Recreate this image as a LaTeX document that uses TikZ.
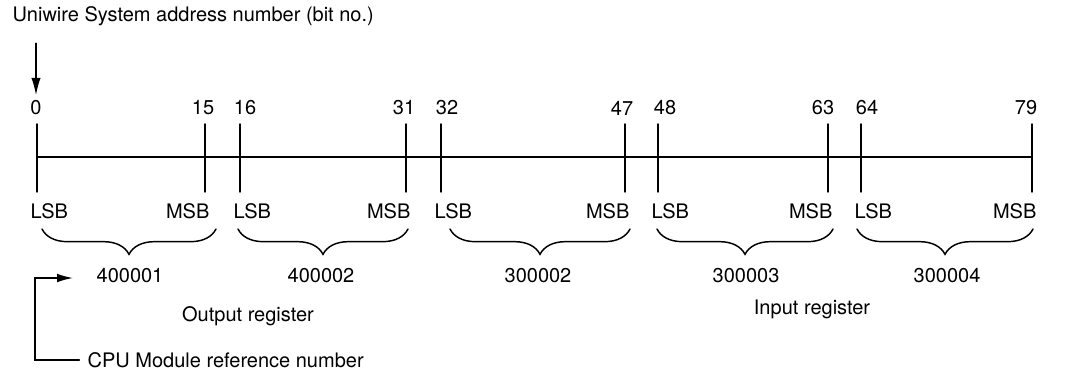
\documentclass[tikz,border=0pt]{standalone}
\usepackage{fontspec}
\setmainfont{TeX Gyre Heros}
\usetikzlibrary{arrows.meta,decorations.pathreplacing}

\begin{document}
\begin{tikzpicture}[>=Latex,line cap=round,x=0.75pt,y=-0.75pt,
	lbl/.style={inner sep=1pt,font=\fontsize{15}{17}\selectfont},
	brc/.style={line width=1.1pt,decorate,decoration={brace,mirror,amplitude=19pt}}]
	
	\useasboundingbox (0,0) rectangle (1070,371);
	
	% ===== 参数：总线高度与刻度上下端 =====
	\def\yl{157}\def\yt{124}\def\yb{192}
	
	% ---- 标题与向下箭头 ----
	\node[lbl,anchor=west] (title) at (11,16) {Uniwire System address number (bit no.)};
	
	% ---- 总线（水平线）----
	\draw[line width=1.1pt] (37,\yl) -- (1032,\yl);
	
	% ---- 刻度线与位号 ----
	\foreach \x/\nx/\n in {37/36/0,205/203/15,240/245/16,406/404/31,441/447/32,
		625/622/47,658/665/48,828/823/63,861/867/64,1032/1026/79}
	{
		\draw[line width=1.1pt] (\x,\yt) -- (\x,\yb);
		\node[lbl] (b\n) at (\nx,108) {\n};
	}
	
	% ---- 指向第 0 位的箭头 ----
	\draw[line width=1.1pt,-{Latex[length=13pt,width=7pt]},shorten <=12pt,shorten >=3pt]
	(title.south -| b0) -- (b0.north);
	
	% ---- LSB / MSB 标注 ----
	\foreach \l/\m/\k in {37/205/1,240/406/2,441/625/3,658/828/4,861/1032/5}
	{
		\node[lbl,anchor=west] (lsb\k) at (\l-8,211) {LSB};
		\node[lbl,anchor=east] (msb\k) at (\m+6,211) {MSB};
	}
	
	% ---- 大括号与寄存器编号 ----
	\foreach \a/\c/\r/\rx in {42/216/400001/130,238/408/400002/321,450/630/300002/538,
		657/833/300003/746,857/1033/300004/947}
	{
		\draw[brc] (\a,229) -- (\c,229);
		\node[lbl] (r\r) at (\rx,276) {\r};
	}
	
	% ---- 寄存器类别 ----
	\node[lbl] (outreg) at (248,316) {Output register};
	\node[lbl] (inreg) at (812,309) {Input register};
	
	% ---- CPU 模块参考号及折线箭头 ----
	\node[lbl,anchor=west] (cpu) at (86,360) {CPU Module reference number};
	\draw[line width=1.1pt,-{Latex[length=12pt,width=6.5pt]},shorten <=5pt]
	(cpu.west) -| (35,278) -- (73,278);
	
\end{tikzpicture}
\end{document}
